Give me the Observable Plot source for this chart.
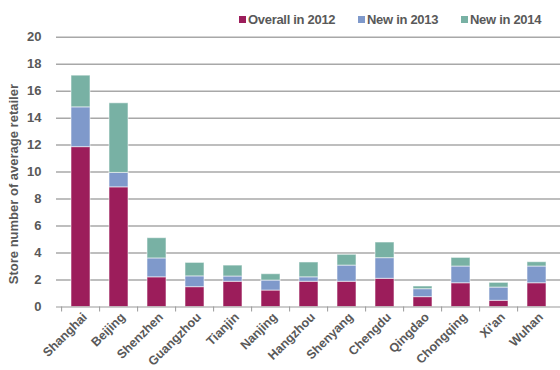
<!DOCTYPE html>
<html>
<head>
<meta charset="utf-8">
<script src="https://cdn.jsdelivr.net/npm/d3@7"></script>
<script src="https://cdn.jsdelivr.net/npm/@observablehq/plot@0.6"></script>
<style>
  body { margin: 0; background: #fff; font-family: "Liberation Sans", Arial, sans-serif; }
  #wrap { width: 560px; }
  #legend { position: relative; height: 30px; font: bold 13px "Liberation Sans", Arial, sans-serif; color: #595959; letter-spacing: -0.3px; }
  .sw { position: absolute; width: 7px; height: 7px; top: 16px; }
  .lt { position: absolute; top: 12px; line-height: 15px; white-space: nowrap; }
</style>
</head>
<body>
<div id="wrap">
  <div id="legend"></div>
  <div id="chart"></div>
</div>
<script>
const cities = ["Shanghai","Beijing","Shenzhen","Guangzhou","Tianjin","Nanjing","Hangzhou","Shenyang","Chengdu","Qingdao","Chongqing","Xi'an","Wuhan"];
const seriesNames = ["Overall in 2012","New in 2013","New in 2014"];
const overall2012 = [11.85, 8.87, 2.2, 1.47, 1.87, 1.22, 1.87, 1.87, 2.09, 0.73, 1.76, 0.46, 1.76];
const new2013 =     [2.95, 1.07, 1.4, 0.8, 0.39, 0.74, 0.33, 1.2, 1.53, 0.59, 1.24, 0.98, 1.24];
const new2014 =     [2.35, 5.16, 1.5, 1.0, 0.81, 0.47, 1.1, 0.8, 1.16, 0.2, 0.64, 0.35, 0.32];
const yTicks = [0, 2, 4, 6, 8, 10, 12, 14, 16, 18, 20];
const yTitle = "Store number of average retailer";
const colors = ["#9C1D5B", "#7F99CB", "#78B1A4"];

const seriesValues = [overall2012, new2013, new2014];
const data = [];
cities.forEach((c, i) => {
  seriesNames.forEach((s, j) => data.push({city: c, series: s, value: seriesValues[j][i]}));
});

// legend (HTML, above the SVG)
const legend = document.getElementById("legend");
const swatchX = [239, 358, 461];
seriesNames.forEach((s, j) => {
  const sw = document.createElement("div");
  sw.className = "sw";
  sw.style.left = swatchX[j] + "px";
  sw.style.background = colors[j];
  const t = document.createElement("div");
  t.className = "lt";
  t.style.left = (swatchX[j] + 9) + "px";
  t.textContent = s;
  legend.appendChild(sw); legend.appendChild(t);
});

const W = 560, H = 340;
const step = (W - 56 - 0) / cities.length;
const fontStyle = {fontFamily: "Liberation Sans, Arial, sans-serif", fontWeight: "bold", fontSize: 13, fill: "#595959"};

const chart = Plot.plot({
  width: W,
  height: H,
  marginLeft: 56,
  marginRight: 0,
  marginTop: 6.7,
  marginBottom: 63.5,
  style: {fontFamily: "Liberation Sans, Arial, sans-serif", fontSize: "13px", fontWeight: "bold", color: "#595959", overflow: "visible"},
  x: {domain: cities, paddingInner: 0.5, paddingOuter: 0.25},
  y: {domain: [0, 20]},
  color: {domain: seriesNames, range: colors},
  marks: [
    Plot.ruleY(yTicks.filter(d => d > 0), {stroke: "#a8a8a8", strokeWidth: 1.5}),
    Plot.barY(data, Plot.stackY({x: "city", y: "value", fill: "series", order: seriesNames, stroke: "#ffffff", strokeOpacity: 0.55, strokeWidth: 1})),
    Plot.ruleY([0], {stroke: "#9a9a9a", strokeWidth: 1.2}),
    Plot.axisY({ticks: yTicks, tickSize: 0, tickPadding: 15, label: null, fill: "#595959", fontWeight: "bold", fontSize: 13}),
    Plot.axisX({tickSize: 5, text: null, dx: -step / 2, stroke: "#9a9a9a", label: null}),
    Plot.axisX({tickSize: 0, tickRotate: -45, tickPadding: 8, dx: 4, label: null, fill: "#595959", fontWeight: "bold", fontSize: 12.5, letterSpacing: -0.3}),
    Plot.text([yTitle], {frameAnchor: "left", rotate: -90, textAnchor: "middle", dx: -43, dy: 12, ...fontStyle, letterSpacing: -0.2})
  ]
});
document.getElementById("chart").appendChild(chart);
</script>
</body>
</html>
